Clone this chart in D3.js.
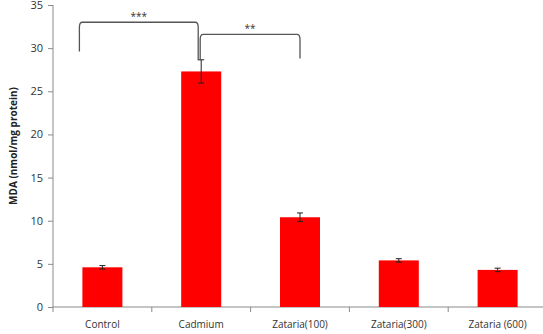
<!DOCTYPE html>
<html>
<head>
<meta charset="utf-8">
<script src="https://cdn.jsdelivr.net/npm/d3@7"></script>
<style>
  body { margin: 0; background: #fff; }
  svg { display: block; }
  text { font-family: "Open Sans", "Liberation Sans", sans-serif; }
</style>
</head>
<body>
<script>
// MDA levels per treatment group (mean ± SE)
const groups = ["Control", "Cadmium", "Zataria(100)", "Zataria(300)", "Zataria (600)"];
const mda = [4.6, 27.3, 10.4, 5.4, 4.3];
const errs = [0.2, 1.35, 0.5, 0.2, 0.2];
const yTicks = [0, 5, 10, 15, 20, 25, 30, 35];

// significance brackets between groups, in data units
const brackets = [
  { a: 0, b: 1, label: "***", top: 33.0, leftEnd: 29.6, rightEnd: 28.6 },
  { a: 1, b: 2, label: "**", top: 31.6, leftEnd: 28.6, rightEnd: 28.8 }
];

const W = 543, H = 334;
const m = { left: 53, top: 5, bottom: 27 };
const plotW = 5 * 98.8;

const svg = d3.select("body").append("svg").attr("width", W).attr("height", H);

const x = d3.scaleBand().domain(groups).range([m.left, m.left + plotW]).paddingInner(0.595).paddingOuter(0.2975);
const y = d3.scaleLinear().domain([0, 35]).range([H - m.bottom, m.top]);
const cx = g => x(g) + x.bandwidth() / 2;

// y axis
const yAxis = svg.append("g").attr("transform", `translate(${m.left},0)`)
  .call(d3.axisLeft(y).tickValues(yTicks).tickSize(5).tickPadding(5));
yAxis.select(".domain").attr("stroke", "#8a8a8a").attr("d", `M-0,${y(0)}V${y(35)}`);
yAxis.selectAll(".tick line").attr("stroke", "#8a8a8a");
yAxis.selectAll(".tick text").attr("fill", "#333").style("font-size", "11px");

// x axis with ticks at band boundaries
const xg = svg.append("g").attr("transform", `translate(0,${y(0)})`);
xg.append("line").attr("x1", m.left).attr("x2", m.left + plotW).attr("stroke", "#8a8a8a");
const step = x.step();
xg.selectAll("line.tk").data(d3.range(0, 6)).join("line").attr("class", "tk")
  .attr("x1", i => m.left + i * step).attr("x2", i => m.left + i * step)
  .attr("y1", 0).attr("y2", 5).attr("stroke", "#8a8a8a");
xg.selectAll("text").data(groups).join("text")
  .attr("x", d => cx(d)).attr("y", 21)
  .attr("text-anchor", "middle").attr("fill", "#333").style("font-size", "10px")
  .text(d => d);

// bars
svg.selectAll("rect.bar").data(groups).join("rect").attr("class", "bar")
  .attr("x", d => x(d)).attr("width", x.bandwidth())
  .attr("y", (d, i) => y(mda[i])).attr("height", (d, i) => y(0) - y(mda[i]))
  .attr("fill", "#ff0000");

// error bars
const eb = svg.selectAll("g.err").data(groups).join("g").attr("class", "err")
  .attr("stroke", "#222").attr("stroke-width", 1);
eb.append("line")
  .attr("x1", d => cx(d)).attr("x2", d => cx(d))
  .attr("y1", (d, i) => y(mda[i] + errs[i])).attr("y2", (d, i) => y(mda[i] - errs[i]));
[1, -1].forEach(s => {
  eb.append("line")
    .attr("x1", d => cx(d) - 3).attr("x2", d => cx(d) + 3)
    .attr("y1", (d, i) => y(mda[i] + s * errs[i])).attr("y2", (d, i) => y(mda[i] + s * errs[i]));
});

// significance brackets
const bracketX = [
  [x(groups[0]) - 3, cx(groups[1]) - 3],
  [cx(groups[1]) - 1, cx(groups[2])]
];
brackets.forEach((bk, k) => {
  const [xa, xb] = bracketX[k];
  const yt = y(bk.top), r = 5;
  const p = d3.path();
  p.moveTo(xa, y(bk.leftEnd));
  p.lineTo(xa, yt + r);
  p.quadraticCurveTo(xa, yt, xa + r * 0.6, yt);
  p.lineTo(xb - r * 0.6, yt);
  p.quadraticCurveTo(xb, yt, xb, yt + r);
  p.lineTo(xb, y(bk.rightEnd));
  svg.append("path").attr("d", p.toString()).attr("fill", "none")
    .attr("stroke", "#555").attr("stroke-width", 1.3);
  svg.append("text").attr("x", (xa + xb) / 2).attr("y", yt - 2)
    .attr("text-anchor", "middle").attr("fill", "#333").style("font-size", "10px")
    .text(bk.label);
});

// y axis title
svg.append("text")
  .attr("transform", `translate(17,${(y(0) + y(35)) / 2 - 10}) rotate(-90)`)
  .attr("text-anchor", "middle").attr("fill", "#222")
  .style("font-size", "10px").style("font-weight", "bold")
  .text("MDA (nmol/mg protein)");
</script>
</body>
</html>
